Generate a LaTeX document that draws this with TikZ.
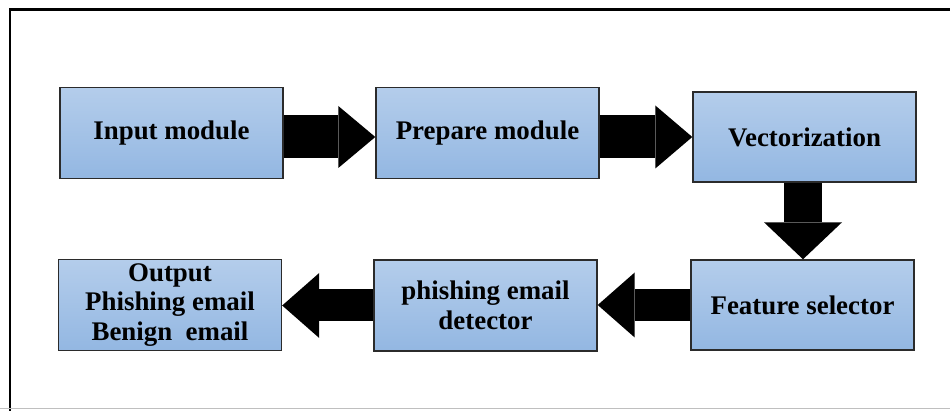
\documentclass[tikz,border=0pt]{standalone}
\usepackage{fontspec}
\setmainfont{Liberation Serif}
\usetikzlibrary{arrows.meta, calc}
\definecolor{boxtop}{HTML}{B4CDEB}
\definecolor{boxbot}{HTML}{93B7E2}
\definecolor{boxline}{HTML}{2B2B2B}
\tikzset{
  modbox/.style={draw=boxline, line width=0.8pt, top color=boxtop, bottom color=boxbot,
    minimum width=4.46cm, minimum height=1.82cm, inner sep=2pt, align=center,
    font=\bfseries\fontsize{15.3}{17}\selectfont},
  blockarrow/.style args={#1/#2}{draw=black, line width=#1,
    -{Triangle[length=0.74cm, width=#2, line width=0pt]}},
  frame/.style={draw=black, line width=0.06cm},
}

\begin{document}
\begin{tikzpicture}
  \useasboundingbox (0,0) rectangle (19,8.2);
  \clip (0,0) rectangle (19,8.2);
  % outer frame
  \draw[frame] (0.2,-0.5) |- (19.5,8.0);
  \draw[black!25, line width=0.5pt] (0,0.03) -- (19,0.03);
  % top row
  \node[modbox] (inmod) at (3.43,5.54) {Input module};
  \node[modbox] (prep) at (9.75,5.54) {Prepare module};
  \node[modbox, minimum height=1.8cm] (vect) at (16.09,5.46) {Vectorization};
  % bottom row
  \node[modbox, minimum height=1.8cm] (feat) at (16.05,2.10) {Feature selector};
  \node[modbox] (detect) at (9.71,2.09) {phishing email\\detector};
  \node[modbox] (output) at (3.40,2.10) {Output\\Phishing email\\Benign\ \ email};
  % flow
  \draw[blockarrow=0.86cm/1.24cm] ([yshift=-0.08cm]inmod.east) -- ([yshift=-0.08cm]prep.west);
  \draw[blockarrow=0.86cm/1.26cm] (prep.east |- vect.west) -- (vect.west);
  \draw[blockarrow=0.76cm/1.56cm] ([xshift=-0.03cm]vect.south) -- ([xshift=-0.03cm]vect.south |- feat.north);
  \draw[blockarrow=0.64cm/1.3cm] (feat.west) -- (feat.west -| detect.east);
  \draw[blockarrow=0.64cm/1.3cm] (detect.west) -- (detect.west -| output.east);
\end{tikzpicture}
\end{document}
